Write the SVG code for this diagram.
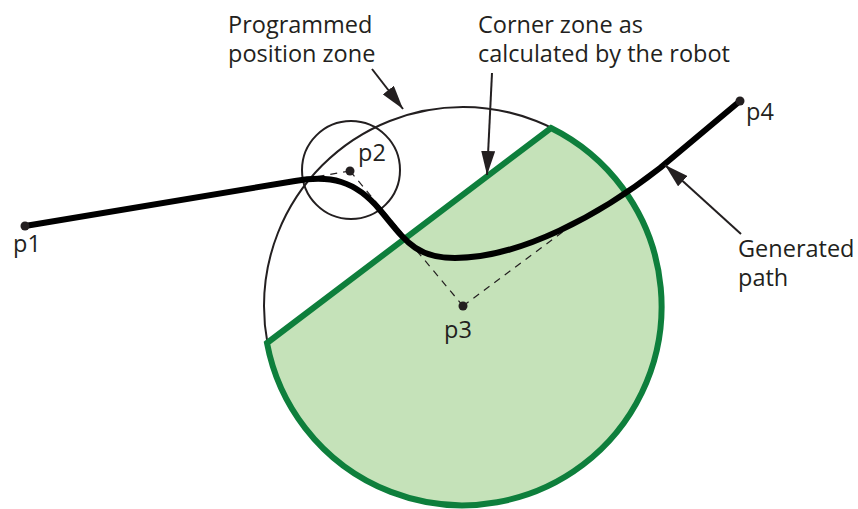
<svg xmlns="http://www.w3.org/2000/svg" width="858" height="509" viewBox="0 0 858 509">
<style>
.lbl{font-family:"Open Sans","Liberation Sans",sans-serif;font-size:23.5px;fill:#231f20}
.thin{fill:none;stroke:#231f20;stroke-width:2}
.dash{fill:none;stroke:#231f20;stroke-width:1.2;stroke-dasharray:7 6}
.ldr{fill:none;stroke:#231f20;stroke-width:2}
.dot{fill:#231f20}
</style>
<defs>
<marker id="arr" viewBox="0 0 24 14" refX="24" refY="7" markerWidth="24" markerHeight="14" markerUnits="userSpaceOnUse" orient="auto">
<path d="M0 0 L24 7 L0 14 Z" fill="#231f20"/>
</marker>
</defs>
<g id="corner-zone">
<circle cx="463" cy="306" r="199" class="thin"/>
<path d="M267 343 L551 128 A199 199 0 1 1 267 343 Z" fill="#c5e2b9" stroke="#0e7f3c" stroke-width="6" stroke-linejoin="miter"/>
</g>
<g id="position-zone">
<circle cx="351" cy="170" r="49" class="thin"/>
</g>
<g id="connectors">
<line x1="350" y1="171" x2="463" y2="306" class="dash"/>
<line x1="463" y1="306" x2="576" y2="222" class="dash"/>
<line x1="350" y1="171" x2="300" y2="179.5" class="dash"/>
<path id="generated-path" d="M25 226 L295 181 C330 175 355 180 380 210 C405 240 415 258 455 258 C520 258 600 215 660 168 L740 101" fill="none" stroke="#000" stroke-width="6" stroke-linecap="round" stroke-linejoin="round"/>
<line x1="372" y1="69" x2="403" y2="109" class="ldr" marker-end="url(#arr)"/>
<line x1="492" y1="73" x2="487" y2="175" class="ldr" marker-end="url(#arr)"/>
<line x1="741" y1="234" x2="665" y2="165" class="ldr" marker-end="url(#arr)"/>
</g>
<g id="p1"><circle cx="25" cy="226" r="4.5" class="dot"/><text x="13" y="252" class="lbl">p1</text></g>
<g id="p2"><circle cx="350" cy="171" r="4.5" class="dot"/><text x="358" y="161" class="lbl">p2</text></g>
<g id="p3"><circle cx="463" cy="306" r="4.5" class="dot"/><text x="444" y="338" class="lbl">p3</text></g>
<g id="p4"><circle cx="740" cy="101" r="4.5" class="dot"/><text x="746" y="120" class="lbl">p4</text></g>
<g id="label-programmed"><text x="228" y="33" class="lbl">Programmed</text><text x="228" y="62" class="lbl">position zone</text></g>
<g id="label-corner"><text x="478" y="33" class="lbl">Corner zone as</text><text x="478" y="62" class="lbl">calculated by the robot</text></g>
<g id="label-generated"><text x="738" y="257" class="lbl">Generated</text><text x="738" y="286" class="lbl">path</text></g>
</svg>
